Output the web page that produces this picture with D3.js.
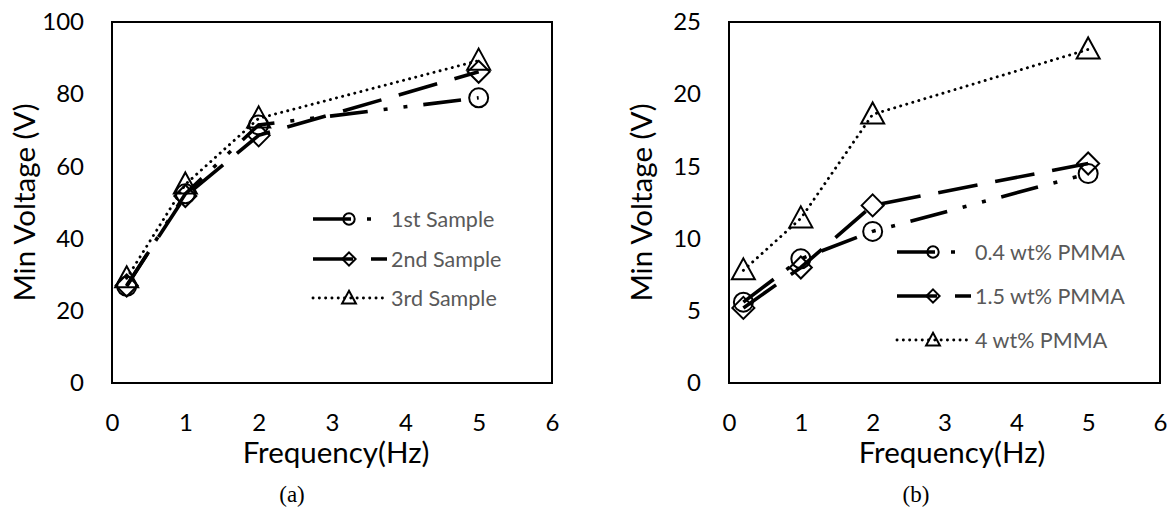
<!DOCTYPE html>
<html>
<head>
<meta charset="utf-8">
<script src="https://cdn.jsdelivr.net/npm/d3@7"></script>
<style>
  body { margin: 0; background: #fff; }
  svg { display: block; }
</style>
</head>
<body>
<div id="chartContainer"></div>
<script>
// data
const freq = [0.2, 1, 2, 5];
const xTicks = [0, 1, 2, 3, 4, 5, 6];

const yTicksA = [0, 20, 40, 60, 80, 100];
const namesA = ["1st Sample", "2nd Sample", "3rd Sample"];
const sample1 = [26.8, 52.4, 71.5, 79.0];
const sample2 = [27.0, 51.8, 68.6, 86.2];
const sample3 = [29.0, 55.0, 73.3, 89.3];

const yTicksB = [0, 5, 10, 15, 20, 25];
const namesB = ["0.4 wt% PMMA", "1.5 wt% PMMA", "4 wt% PMMA"];
const pmma04 = [5.6, 8.6, 10.5, 14.5];
const pmma15 = [5.2, 8.0, 12.3, 15.2];
const pmma4 = [7.8, 11.4, 18.6, 23.1];

const W = 1168, H = 509;
const sansFont = "Lato, 'Open Sans', sans-serif";

const svg = d3
  .select("#chartContainer")
  .append("svg")
  .attr("width", W)
  .attr("height", H);

svg.append("rect").attr("width", W).attr("height", H).attr("fill", "#fff");

// one style per series (same for both panels)
const seriesStyle = [
  { marker: "circle", dash: "38,16,4,16,4,16", width: 3.6, cap: "butt" },
  { marker: "diamond", dash: "40,18", width: 3.6, cap: "butt" },
  { marker: "triangle", dash: "0.1,6.2", width: 2.9, cap: "round" }
];

function markerPath(type, s) {
  if (type === "circle") {
    const r = 9.5 * s;
    return `M${-r},0A${r},${r} 0 1,0 ${r},0A${r},${r} 0 1,0 ${-r},0Z`;
  }
  if (type === "diamond") {
    const r = 11 * s;
    return `M0,${-r}L${r},0L0,${r}L${-r},0Z`;
  }
  const h = 11.5 * s;
  return `M0,${-12 * s}L${h},${9 * s}L${-h},${9 * s}Z`;
}

function drawPanel(p) {
  const x = d3.scaleLinear().domain([0, 6]).range([p.left, p.right]);
  const y = d3.scaleLinear().domain(p.yDomain).range([383, 22]);

  // y axis labels
  const gy = svg
    .append("g")
    .attr("transform", `translate(${p.left},0)`)
    .call(d3.axisLeft(y).tickValues(p.yTicks).tickSize(0).tickPadding(28).tickFormat(d3.format("d")));
  gy.select(".domain").remove();
  gy.selectAll("text")
    .attr("font-family", sansFont)
    .attr("font-size", 24)
    .attr("fill", "#000");

  // x axis labels
  const gx = svg
    .append("g")
    .attr("transform", "translate(0,383)")
    .call(d3.axisBottom(x).tickValues(xTicks).tickSize(0).tickPadding(31).tickFormat(d3.format("d")));
  gx.select(".domain").remove();
  gx.selectAll("text")
    .attr("font-family", sansFont)
    .attr("font-size", 24)
    .attr("fill", "#000");

  // plot box
  svg
    .append("rect")
    .attr("x", p.left)
    .attr("y", y(p.yDomain[1]))
    .attr("width", p.right - p.left)
    .attr("height", y(p.yDomain[0]) - y(p.yDomain[1]))
    .attr("fill", "none")
    .attr("stroke", "#000")
    .attr("stroke-width", 2);

  const line = d3
    .line()
    .x((d, i) => x(freq[i]))
    .y((d) => y(d));

  p.series.forEach((vals, k) => {
    const st = seriesStyle[k];
    svg
      .append("path")
      .datum(vals)
      .attr("d", line)
      .attr("fill", "none")
      .attr("stroke", "#000")
      .attr("stroke-width", st.width)
      .attr("stroke-dasharray", st.dash)
      .attr("stroke-linecap", st.cap);

    svg
      .selectAll(null)
      .data(vals)
      .enter()
      .append("path")
      .attr("transform", (d, i) => `translate(${x(freq[i])},${y(d)})`)
      .attr("d", markerPath(st.marker, 1))
      .attr("fill", "none")
      .attr("stroke", "#000")
      .attr("stroke-width", 2);
  });

  // legend
  const legend = svg
    .selectAll(null)
    .data(p.names)
    .enter()
    .append("g")
    .attr("transform", (d, i) => `translate(${p.legendX},${p.legendY[i]})`);

  legend
    .append("line")
    .attr("x1", 0)
    .attr("x2", 74)
    .attr("stroke", "#000")
    .attr("stroke-width", (d, i) => seriesStyle[i].width)
    .attr("stroke-dasharray", (d, i) => seriesStyle[i].dash)
    .attr("stroke-linecap", (d, i) => seriesStyle[i].cap);

  legend
    .append("path")
    .attr("transform", "translate(36,0)")
    .attr("d", (d, i) => markerPath(seriesStyle[i].marker, 0.6))
    .attr("fill", "none")
    .attr("stroke", "#000")
    .attr("stroke-width", 2);

  legend
    .append("text")
    .attr("x", 78)
    .attr("dy", "0.35em")
    .attr("font-family", sansFont)
    .attr("font-size", 21.5)
    .attr("fill", "#595959")
    .text((d) => d);

  // axis titles
  svg
    .append("text")
    .attr("x", p.titleX)
    .attr("y", 463)
    .attr("text-anchor", "middle")
    .attr("font-family", sansFont)
    .attr("font-size", 29.5)
    .attr("fill", "#000")
    .text("Frequency(Hz)");

  svg
    .append("text")
    .attr("transform", `translate(${p.left - 77},${(22 + 383) / 2}) rotate(-90)`)
    .attr("text-anchor", "middle")
    .attr("font-family", sansFont)
    .attr("font-size", 29.5)
    .attr("fill", "#000")
    .text("Min Voltage (V)");

  // panel caption
  svg
    .append("text")
    .attr("x", p.captionX)
    .attr("y", 502)
    .attr("text-anchor", "middle")
    .attr("font-family", "'Liberation Serif', 'Times New Roman', serif")
    .attr("font-size", 23)
    .attr("fill", "#000")
    .text(p.caption);
}

drawPanel({
  left: 112,
  right: 552,
  yDomain: [0, 100],
  yTicks: yTicksA,
  series: [sample1, sample2, sample3],
  names: namesA,
  legendX: 313,
  legendY: [219, 259, 298],
  titleX: 336,
  caption: "(a)",
  captionX: 292
});

drawPanel({
  left: 729,
  right: 1160,
  yDomain: [0, 25],
  yTicks: yTicksB,
  series: [pmma04, pmma15, pmma4],
  names: namesB,
  legendX: 897,
  legendY: [252, 296, 340],
  titleX: 952,
  caption: "(b)",
  captionX: 916
});
</script>
</body>
</html>
